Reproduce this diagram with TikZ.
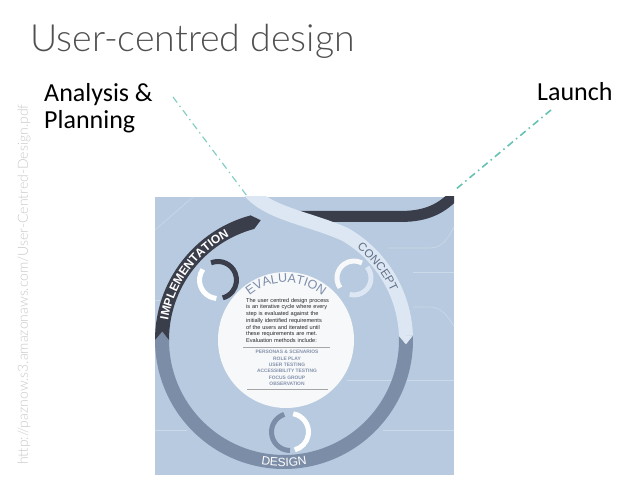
\documentclass[tikz,border=0pt]{standalone}
\usepackage{fontspec}
\setmainfont{Lato}
\newfontfamily\titlefont{Lato Light}
\newfontfamily\labelfont{Carlito}
\newfontfamily\diagfont{Liberation Sans}
\usetikzlibrary{decorations.text}
\definecolor{panelblue}{RGB}{184,202,223}
\definecolor{ringdark}{RGB}{58,61,74}
\definecolor{ringmid}{RGB}{124,141,168}
\definecolor{ringlight}{RGB}{220,231,243}
\definecolor{evalwhite}{RGB}{247,248,250}
\definecolor{conceptslate}{RGB}{96,110,134}
\definecolor{listslate}{RGB}{132,146,172}
\definecolor{dashteal}{RGB}{102,194,180}
\definecolor{titlegray}{RGB}{80,80,80}
\definecolor{urlgray}{RGB}{200,200,200}
\definecolor{faintline}{RGB}{204,217,233}
% one segment of the big cycle: notch at the start, point at the end
\newcommand{\cyclearc}[3]{%
  \fill[#1] (#2:129) arc[start angle=#2, end angle=#3, radius=129]
    -- (#3-4:122) -- (#3:115) arc[start angle=#3, end angle=#2, radius=115]
    -- (#2-4:122) -- cycle;}
\begin{document}
\begin{tikzpicture}[x=1pt,y=1pt,
    band/.style={line width=14pt},
    mini/.style={line width=5pt},
    faint/.style={faintline, line width=0.6pt},
    dashdot line/.style={dashteal, line width=1.6pt, dash pattern=on 7pt off 4pt on 1.5pt off 4pt}]
  \useasboundingbox (0,0) rectangle (638,479);
  % Title and labels
  \node[anchor=base west, inner sep=0, text=titlegray, font=\titlefont\fontsize{37.5}{37.5}\selectfont]
    (title) at (30,427) {User-centred design};
  \node[anchor=base west, inner sep=0, font=\labelfont\fontsize{26}{26}\selectfont]
    (plan) at (44,377.3) {Analysis \&};
  \node[anchor=base west, inner sep=0, font=\labelfont\fontsize{26}{26}\selectfont]
    (plan2) at (44,350.7) {Planning};
  \node[anchor=base west, inner sep=0, font=\labelfont\fontsize{26}{26}\selectfont]
    (launch) at (537,378.3) {Launch};
  \node[rotate=90, anchor=base west, inner sep=0, text=urlgray, font=\titlefont\fontsize{14}{14}\selectfont]
    (source) at (28,14) {http://paznow.s3.amazonaws.com/User-Centred-Design.pdf};
  % Panel
  \begin{scope}
    \clip (155,4) rectangle (454,282);
    \fill[panelblue] (155,4) rectangle (454,282);
    % faint background lines
    \draw[faint] (155,49) -- (187,49);
    \draw[faint] (383,49) -- (454,49);
    \draw[faint] (347,99) -- (454,99);
    \draw[faint] (413,207) -- (454,207);
    \draw[faint] (387,231) -- (430,231) .. controls (442,231) and (448,240) .. (456,256);
    \draw[faint] (413,172) -- (430,172) .. controls (442,172) and (448,162) .. (456,150);
    \draw[faint] (155,179) -- (160,179);
    \draw[faint] (155,249) -- (193,282);
    % Cycle around the centre
    \begin{scope}[shift={(284,139)}]
      \cyclearc{ringmid}{2}{-180}
      \cyclearc{ringdark}{180}{105}
      % dark band out to launch
      \draw[ringdark, line width=11pt] (8,123.5) -- (116,123.5)
        .. controls (146,123.5) and (161,133) .. (178,153);
      % light band in from planning
      \draw[ringlight, band] (-39,155) .. controls (-22,127) and (22,123) .. (60:122)
        arc[start angle=60, end angle=2, radius=122];
      \fill[ringlight] (2:129) -- (-2:122) -- (2:115) -- cycle;
      % ring labels
      \path[decorate, decoration={text along path, text align=center, text color=white,
          text={|\diagfont\bfseries\fontsize{12}{12}\selectfont|IMPLEMENTATION}}]
        (175:117.5) arc[start angle=175, end angle=113, radius=117.5];
      \path[decorate, decoration={text along path, text align=center, text color=conceptslate,
          text={|\diagfont\fontsize{11.5}{11.5}\selectfont|CONCEPT}}]
        (54:117.5) arc[start angle=54, end angle=22, radius=117.5];
      \path[decorate, decoration={text along path, text align=center, text color=white,
          text={|\diagfont\fontsize{12}{12}\selectfont|DESIGN}}]
        (255:126.5) arc[start angle=255, end angle=285, radius=126.5];
    \end{scope}
    % Small loops
    \draw[ringdark, mini] (218,199) ++(112:18.5) arc[start angle=112, end angle=-75, radius=18.5];
    \draw[white, mini] (218,199) ++(-95:18.5) arc[start angle=-95, end angle=-215, radius=18.5];
    \draw[evalwhite, mini] (354,201) ++(215:17) arc[start angle=215, end angle=62, radius=17];
    \draw[ringlight, mini] (354,201) ++(40:17) arc[start angle=40, end angle=-105, radius=17];
    \draw[ringmid, mini] (290,47) ++(270:18.5) arc[start angle=270, end angle=108, radius=18.5];
    \draw[white, mini] (290,47) ++(80:18.5) arc[start angle=80, end angle=-75, radius=18.5];
    % Evaluation circle
    \node[circle, fill=evalwhite, minimum size=136pt, inner sep=0] (eval) at (286,139) {};
    \path[decorate, decoration={text along path, text align=center, text color=ringmid,
        text={|\diagfont\fontsize{12.5}{12.5}\selectfont|EVALUATION}}]
      (286,139) ++(134:57.5) arc[start angle=134, end angle=46, radius=57.5];
    \node[anchor=north west, inner sep=0, text width=95pt, align=left, text=black!85,
        font=\diagfont\fontsize{5.6}{6.7}\selectfont] (evaltext) at (246,181)
      {The user centred design process\\is an iterative cycle where every\\step is evaluated against the\\initially identified requirements\\of the users and iterated until\\these requirements are met.\\Evaluation methods include:};
    \draw[black!35, line width=0.5pt] (243,132) -- (330,132);
    \node[align=center, inner sep=0, text=listslate,
        font=\diagfont\bfseries\fontsize{4.9}{6.4}\selectfont] (methods) at (287,111)
      {PERSONAS \& SCENARIOS\\ROLE PLAY\\USER TESTING\\ACCESSIBILITY TESTING\\FOCUS GROUP\\OBSERVATION};
    \draw[black!35, line width=0.5pt] (247,90) -- (328,90);
  \end{scope}
  % Links to the labels
  \coordinate (plan-tip) at (173,382);
  \coordinate (plan-end) at (247,283);
  \coordinate (launch-tip) at (551,369);
  \coordinate (launch-end) at (455,289);
  \draw[dashdot line, line width=1.2pt, dashteal!80] (plan-tip) -- (plan-end);
  \draw[dashdot line] (launch-tip) -- (launch-end);
\end{tikzpicture}
\end{document}
